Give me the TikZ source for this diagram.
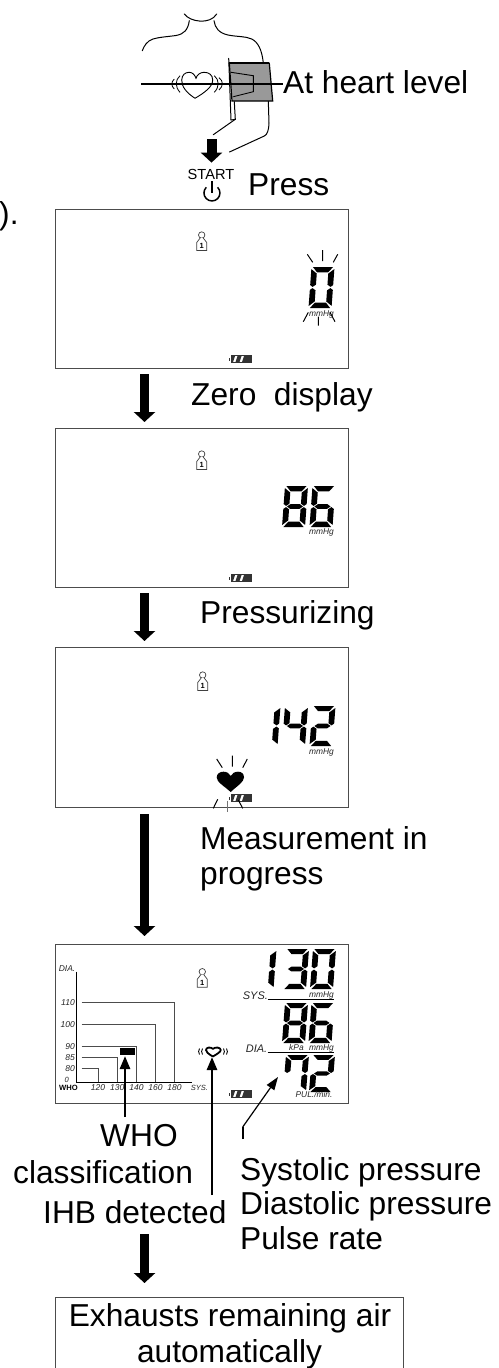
\documentclass[tikz,border=0pt]{standalone}
\usepackage{fontspec}
\setmainfont{Liberation Sans}
\usetikzlibrary{arrows.meta}
\definecolor{framegray}{gray}{0.3}
\definecolor{cuffgray}{gray}{0.6}
\tikzset{
  big/.style={font=\fontsize{31.7}{35}\selectfont,inner sep=0pt,anchor=base west},
  small/.style={font=\fontsize{#1}{#1}\selectfont\itshape,inner sep=0pt,text=black!85},
  panel/.style={draw=framegray,line width=1.1pt,fill=white,minimum width=293pt,minimum height=159pt,anchor=north west,inner sep=0pt},
  bigarrow/.style={line width=9pt,-{Triangle[width=21pt,length=10pt]}},
  thinarrow/.style={line width=2.6pt,-{Triangle[width=10pt,length=13pt]}},
  body/.style={line width=1pt,line cap=round},
  tick/.style={line width=1pt},
  chartline/.style={line width=.8pt,draw=black!70},
}
\newcommand\sega{(.06,1)--(.94,1)--(.74,.87)--(.26,.87)--cycle}
\newcommand\segb{(1,.95)--(.75,.84)--(.75,.57)--(.89,.515)--(1,.56)--cycle}
\newcommand\segc{(1,.05)--(.75,.16)--(.75,.43)--(.89,.485)--(1,.44)--cycle}
\newcommand\segd{(.06,0)--(.94,0)--(.74,.13)--(.26,.13)--cycle}
\newcommand\sege{(0,.05)--(.25,.16)--(.25,.43)--(.11,.485)--(0,.44)--cycle}
\newcommand\segf{(0,.95)--(.25,.84)--(.25,.57)--(.11,.515)--(0,.56)--cycle}
\newcommand\segg{(.15,.5)--(.3,.56)--(.7,.56)--(.85,.5)--(.7,.44)--(.3,.44)--cycle}
% x, bottom y, height, segments
\newcommand\lcddigit[4]{\begin{scope}[shift={(#1,#2)},x={(23pt,0pt)},y={(3pt,#3pt)}]
  \foreach \sg in {#4}{\fill[black] \csname seg\sg\endcsname;}
\end{scope}}
% centre x, head y
\newcommand\personicon[2]{\begin{scope}[shift={(#1,#2)}]
  \draw[line width=.7pt,black!75] (0,0) circle (3.2pt);
  \draw[line width=.7pt,black!75,fill=white] (-1.5,3) -- (-5,7.5) -- (-5,15.5) -- (5,15.5) -- (5,7.5) -- (1.5,3);
  \node[inner sep=0pt,font=\fontsize{7.5}{8}\selectfont\bfseries] (icon#2) at (0,11.2) {1};
\end{scope}}
% left x, top y
\newcommand\batteryicon[2]{\begin{scope}[shift={(#1,#2)}]
  \fill[black!80] (0,2.5) rectangle (1.8,5.5);
  \draw[black!80,line width=.8pt,fill=white] (2.5,.5) rectangle (23,7.5);
  \fill[black!80] (3,1) -- (6.5,1) -- (4.5,7) -- (3,7) -- cycle;
  \fill[black!80] (9,1) -- (13,1) -- (11,7) -- (7,7) -- cycle;
  \fill[black!80] (15.5,1) -- (23,1) -- (23,7) -- (13.5,7) -- cycle;
\end{scope}}
\begin{document}
\begin{tikzpicture}[x=1pt,y=-1pt]
\path[use as bounding box,clip] (0,0) rectangle (498,1368);
\fill[white] (0,0) rectangle (498,1368);
\coordinate (ax) at (144.5,0);
% body
\draw[body] (184.3,14) .. controls (190,22) and (210,25) .. (216.7,14);
\draw[body] (189.3,20.7) .. controls (188,30) and (184,34) .. (176,35.5) .. controls (165,37) and (160,37) .. (153,39) .. controls (147,41) and (144,46) .. (142.3,50.7);
\draw[body] (214,20.7) .. controls (215,28) and (219,33) .. (228,35) .. controls (238,37) and (245,36) .. (251.7,39) .. controls (258,42) and (262,50) .. (263.3,63);
\draw[body] (268.3,101) -- (269,123) .. controls (269,130) and (267,135) .. (264.3,136) -- (229.5,152);
\draw[body] (228.7,58.3) -- (231,120);
\draw[body] (234.3,101.7) -- (235.3,119.3) -- (213.3,134.7);
\draw[body] (231,120) -- (235.3,119.3);
% cuff
\draw[fill=cuffgray,line width=1.2pt] (229.3,63.3) -- (269.3,63.3) -- (272.7,101) -- (232,101) -- cycle;
\draw[line width=1.8pt] (229.3,63.3) -- (269.3,63.3);
\draw[line width=.9pt] (231,72.3) -- (253.3,75.7) -- (253.3,91.7) -- (233.3,96.7);
% heart
\draw[line width=.9pt] (195,98.3) .. controls (187,93) and (181.5,87) .. (181.7,80) .. controls (182,75) and (185,72.3) .. (189.3,72.3) .. controls (192.5,72.3) and (195,75) .. (196,78.3) .. controls (197,75) and (200,72.3) .. (204,72.3) .. controls (209,72.3) and (212.7,75) .. (212.7,80) .. controls (212.7,87) and (204,93) .. (195,98.3);
\draw[line width=.8pt] (180,75.7) .. controls (175,80) and (175,87) .. (180,92.3);
\draw[line width=.8pt] (174.3,79) .. controls (171,82) and (171,86) .. (174.3,89);
\draw[line width=.8pt] (214.3,75.7) .. controls (219.5,80) and (219.5,87) .. (214.3,92.3);
\draw[line width=.8pt] (219,77.7) .. controls (223.5,81) and (223.5,86) .. (219,90);
% level line and labels
\node[big] (level) at (283,93) {At heart level};
\coordinate (levelstart) at (141,84);
\draw[line width=1.9pt] (levelstart) -- (levelstart -| level.west);
\coordinate (startarrowtop) at (211.5,139);
\node[inner sep=0pt,anchor=base,font=\fontsize{14.6}{15}\selectfont] (start) at (211,179) {START};
\draw[line width=10pt,-{Triangle[width=21pt,length=10pt]},shorten >=6pt] (startarrowtop) -- (startarrowtop |- start.north);
\draw[line width=1.5pt] (206.3,187.3) arc[start angle=135,end angle=405,radius=8pt];
\draw[line width=1.5pt] (212,181) -- (212,192.5);
\node[big] (press) at (248,195) {Press};
\node[big] at (-1,224) (stray) {).};
% panels
\node[panel] (p1) at (55,209) {};
\node[panel] (p2) at (55,428) {};
\node[panel,minimum height=160pt] (p3) at (55,647) {};
\node[panel] (p4) at (55,944) {};
% panel 1
\personicon{201.7}{235}
\lcddigit{308.5}{308}{41}{a,b,c,d,e,f}
\node[small=8.4,anchor=base east] (u1) at (334,316.7) {mmHg};
\draw[tick] (307.3,254.3) -- (312.7,262.3) (322.7,250) -- (322.7,261) (337.7,254.3) -- (333.3,262.3);
\draw[tick] (303.3,321.7) -- (308.3,312.3) (318.3,316.7) -- (318.3,325.7) (335,321.7) -- (330,312.3);
\batteryicon{228.5}{355}
% panel 2
\personicon{201.7}{454}
\lcddigit{282}{527}{41}{a,b,c,d,e,f,g}
\lcddigit{309.5}{527}{41}{a,c,d,e,f,g}
\node[small=8.4,anchor=base east] (u2) at (334,534.5) {mmHg};
\batteryicon{228.5}{574}
% panel 3
\personicon{202.7}{675}
\lcddigit{254.5}{746}{40}{b,c}
\lcddigit{282}{746}{40}{b,c,f,g}
\lcddigit{309.5}{746}{40}{a,b,d,e,g}
\node[small=8.4,anchor=base east] (u3) at (334,754) {mmHg};
\draw[tick] (216.7,759) -- (222.3,767.7) (232.3,755.7) -- (232.3,766.7) (247.3,759) -- (242.7,767.7);
\fill (230.7,792) .. controls (224,786) and (216.7,782) .. (216.7,777.5) .. controls (216.7,773.5) and (220,771.7) .. (223.5,771.7) .. controls (227,771.7) and (229.5,773.5) .. (230.7,776) .. controls (232,773.5) and (234.5,771.7) .. (238,771.7) .. controls (241.5,771.7) and (244,773.5) .. (244,777.5) .. controls (244,782) and (237,786) .. (230.7,792) -- cycle;
\batteryicon{228.5}{794}
\draw[tick] (217.7,799.3) -- (213.3,808.3) (238.3,800) -- (242.7,808.3);
\draw[line width=1.1pt,black!55] (227.7,800.7) -- (227.7,811.7);
% panel 4
\personicon{202.3}{971.7}
\lcddigit{250.5}{989}{40}{b,c}
\lcddigit{283}{989}{40}{a,b,c,d,g}
\lcddigit{310}{989}{40}{a,b,c,d,e,f}
\lcddigit{282}{1043}{40}{a,b,c,d,e,f,g}
\lcddigit{308.5}{1043}{40}{a,c,d,e,f,g}
\lcddigit{283}{1092}{37}{a,b,c,f}
\lcddigit{309}{1092}{37}{a,b,d,e,g}
\draw[line width=.9pt] (267.7,999.3) -- (334,999.3) (267.7,1052.3) -- (334,1052.3);
\node[small=11,anchor=base west] (sys) at (242.7,999) {SYS.};
\node[small=11,anchor=base west] (dia) at (245.7,1052) {DIA.};
\node[small=8.4,anchor=base east] (u4) at (334,997.5) {mmHg};
\node[small=8.4,anchor=base east] (u5) at (334,1050.5) {mmHg};
\node[small=8.4,anchor=base west] (kpa) at (289,1050.5) {kPa};
\node[small=8.4,anchor=base east] (pul) at (332.7,1097) {PUL./min.};
\batteryicon{228.5}{1090}
% chart
\draw[line width=1pt] (76.7,971.7) -- (76.7,1082.3) -- (191.7,1082.3);
\draw[chartline] (81.7,1002.3) -- (174.3,1002.3) -- (174.3,1082);
\draw[chartline] (81.7,1024.3) -- (155.7,1024.3) -- (155.7,1082);
\draw[chartline] (81.7,1046.3) -- (136.3,1046.3) -- (136.3,1082);
\draw[chartline] (81.7,1057.3) -- (117.3,1057.3) -- (117.3,1082);
\draw[chartline] (81.7,1068.3) -- (98.7,1068.3) -- (98.7,1082);
\fill (120,1048) rectangle (135,1054.7);
\node[small=8.5,anchor=base east] (d0) at (75.5,971.7) {DIA.};
\node[small=8.5,anchor=base east] (d1) at (75,1005.7) {110};
\node[small=8.5,anchor=base east] (d2) at (75,1027.7) {100};
\node[small=8.5,anchor=base east] (d3) at (75,1049.7) {90};
\node[small=8.5,anchor=base east] (d4) at (75,1060.7) {85};
\node[small=8.5,anchor=base east] (d5) at (75,1071.7) {80};
\node[small=7.5,anchor=base east] (d6) at (69,1082) {0};
\node[inner sep=0pt,anchor=base west,font=\fontsize{7.6}{8}\selectfont\bfseries] (who) at (59,1090.7) {WHO};
\node[small=8.5,anchor=base] (s1) at (98,1090.7) {120};
\node[small=8.5,anchor=base] (s2) at (117.3,1090.7) {130};
\node[small=8.5,anchor=base] (s3) at (136.5,1090.7) {140};
\node[small=8.5,anchor=base] (s4) at (155.5,1090.7) {160};
\node[small=8.5,anchor=base] (s5) at (174.5,1090.7) {180};
\node[small=7.5,anchor=base west] (s6) at (190.7,1090.7) {SYS.};
% IHB heart
\draw[line width=1.8pt] (212.8,1056.5) .. controls (208,1053.5) and (206,1052) .. (206,1050) .. controls (206,1047.5) and (210.5,1046.5) .. (213,1048.8) .. controls (215.5,1046.5) and (220.7,1047.5) .. (220.7,1050) .. controls (220.7,1052) and (217,1054) .. (212.8,1056.5);
\draw[line width=.9pt] (199.5,1048.5) .. controls (198.3,1050.5) and (198.3,1052.5) .. (199.5,1054.5) (202.5,1048.5) .. controls (201.3,1050.5) and (201.3,1052.5) .. (202.5,1054.5);
\draw[line width=.9pt] (223.5,1048.5) .. controls (224.7,1050.5) and (224.7,1052.5) .. (223.5,1054.5) (226.5,1048.5) .. controls (227.7,1050.5) and (227.7,1052.5) .. (226.5,1054.5);
% texts
\node[big] (whot) at (100,1146) {WHO};
\node[big] (classif) at (13,1183) {classification};
\node[big] (ihb) at (43,1223) {IHB detected};
\node[big] (sy) at (240,1180) {Systolic pressure};
\node[big] (di) at (240,1214) {Diastolic pressure};
\node[big] (pu) at (240,1249) {Pulse rate};
\node[big] (zero) at (191,405) {Zero\ \ display};
\node[big] (press2) at (200,623) {Pressurizing};
\node[big] (meas) at (200,849) {Measurement in};
\node[big] (prog) at (200,884) {progress};
% pointers
\coordinate (whoarrowend) at (125,1117);
\coordinate (whotip) at (125,1056);
\coordinate (ihbend) at (212,1195);
\coordinate (ihbtip) at (212,1057);
\draw[thinarrow] (whoarrowend) -- (whotip);
\draw[thinarrow] (ihbend) -- (ihbtip);
\coordinate (val0) at (242.7,1139);
\coordinate (val1) at (242.7,1127);
\coordinate (valtip) at (278,1077);
\draw[line width=2pt] (val0) -- (val1);
\draw[line width=1.2pt,-{Triangle[width=9pt,length=13pt]}] (val1) -- (valtip);
% bottom box
\node[draw=framegray,line width=1.1pt,fill=none,anchor=north west,minimum width=348pt,minimum height=120pt,inner sep=0pt] (box) at (55,1297) {};
\node[big,anchor=base] (ex1) at (230,1326) {Exhausts remaining air};
\node[big,anchor=base] (ex2) at (229.5,1362) {automatically};
% big arrows
\coordinate (a4s) at (144.5,1234);
\draw[bigarrow,shorten <=5pt,shorten >=6pt] (p1.south -| ax) -- (p2.north -| ax);
\draw[bigarrow,shorten <=5pt,shorten >=6pt] (p2.south -| ax) -- (p3.north -| ax);
\draw[bigarrow,shorten <=6pt,shorten >=8pt] (p3.south -| ax) -- (p4.north -| ax);
\draw[bigarrow,shorten >=14pt] (a4s) -- (box.north -| ax);
\end{tikzpicture}
\end{document}
